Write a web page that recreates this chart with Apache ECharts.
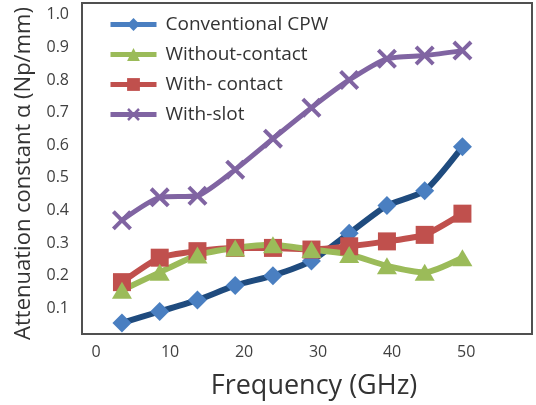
<!DOCTYPE html>
<html>
<head>
<meta charset="utf-8">
<script src="https://cdn.jsdelivr.net/npm/echarts@6/dist/echarts.min.js"></script>
<style>
  html, body { margin: 0; padding: 0; background: #ffffff; }
  #chart { width: 536px; height: 405px; }
</style>
</head>
<body>
<div id="chart"></div>
<script>
// frequency points (GHz)
const freq = [3.5, 8.6, 13.7, 18.8, 23.9, 29.1, 34.2, 39.3, 44.4, 49.5]

// attenuation constant (Np/mm)
const conventionalCpw = [0.055, 0.09, 0.125, 0.17, 0.2, 0.245, 0.33, 0.415, 0.46, 0.595]
const withoutContact = [0.155, 0.21, 0.263, 0.285, 0.295, 0.28, 0.265, 0.23, 0.21, 0.255]
const withContact = [0.18, 0.255, 0.275, 0.285, 0.285, 0.28, 0.29, 0.305, 0.325, 0.39]
const withSlot = [0.37, 0.44, 0.445, 0.525, 0.62, 0.715, 0.8, 0.865, 0.875, 0.89]

const xTicks = [0, 10, 20, 30, 40, 50]
const yTicks = [0.1, 0.2, 0.3, 0.4, 0.5, 0.6, 0.7, 0.8, 0.9, 1.0]

const toPairs = (vals) => vals.map((v, i) => [freq[i], v])

const FONT = '"Open Sans", sans-serif'
const xMark = 'path://M0,1.4L1.4,0L5,3.6L8.6,0L10,1.4L6.4,5L10,8.6L8.6,10L5,6.4L1.4,10L0,8.6L3.6,5Z'

const chart = echarts.init(document.getElementById('chart'))

const option = {
  animation: false,
  grid: {
    left: 82,
    right: 4,
    top: 3,
    bottom: 67,
    show: true,
    borderColor: '#505050',
    borderWidth: 2,
    backgroundColor: '#ffffff'
  },
  legend: {
    orient: 'vertical',
    left: 103,
    top: 10,
    itemWidth: 46,
    itemHeight: 16,
    itemGap: 11,
    textStyle: {
      fontFamily: FONT,
      fontSize: 19,
      color: '#333333',
      padding: [0, 0, 0, 4]
    },
    data: [
      { name: 'Conventional CPW', lineStyle: { color: '#4a7fc1', width: 5 } },
      { name: 'Without-contact', lineStyle: { width: 5 } },
      { name: 'With- contact', lineStyle: { width: 5 } },
      { name: 'With-slot', lineStyle: { width: 5 } }
    ]
  },
  xAxis: {
    type: 'value',
    min: -1.9,
    max: 58.9,
    name: 'Frequency (GHz)',
    nameLocation: 'middle',
    nameGap: 39,
    nameTextStyle: {
      fontFamily: FONT,
      fontSize: 27,
      color: '#333333',
      padding: [0, 0, 0, 14]
    },
    axisLine: { show: false },
    axisTick: { show: false },
    splitLine: { show: false },
    axisLabel: {
      customValues: xTicks,
      fontFamily: FONT,
      fontSize: 16,
      color: '#404040',
      margin: 10
    }
  },
  yAxis: {
    type: 'value',
    min: 0.021,
    max: 1.036,
    name: 'Attenuation constant α (Np/mm)',
    nameLocation: 'middle',
    nameRotate: 90,
    nameGap: 47,
    nameTextStyle: {
      fontFamily: FONT,
      fontSize: 22,
      color: '#333333',
      padding: [0, 10, 0, 0]
    },
    axisLine: { show: false },
    axisTick: { show: false },
    splitLine: { show: false },
    axisLabel: {
      customValues: yTicks,
      formatter: (v) => v.toFixed(1),
      fontFamily: FONT,
      fontSize: 16,
      color: '#404040',
      margin: 13
    }
  },
  series: [
    {
      name: 'Conventional CPW',
      type: 'line',
      data: toPairs(conventionalCpw),
      smooth: 0.2,
      symbol: 'diamond',
      symbolSize: 19,
      lineStyle: { color: '#1f4b7e', width: 6 },
      itemStyle: { color: '#4a7fc1' }
    },
    {
      name: 'With- contact',
      type: 'line',
      data: toPairs(withContact),
      smooth: 0.2,
      symbol: 'rect',
      symbolSize: 18,
      lineStyle: { color: '#c0504d', width: 6 },
      itemStyle: { color: '#c0504d' }
    },
    {
      name: 'Without-contact',
      type: 'line',
      data: toPairs(withoutContact),
      smooth: 0.2,
      symbol: 'triangle',
      symbolSize: [20, 17],
      lineStyle: { color: '#9bbb59', width: 6 },
      itemStyle: { color: '#9bbb59' }
    },
    {
      name: 'With-slot',
      type: 'line',
      data: toPairs(withSlot),
      smooth: 0.2,
      symbol: xMark,
      symbolSize: 20,
      lineStyle: { color: '#8064a2', width: 5 },
      itemStyle: { color: '#8064a2' }
    }
  ]
}

chart.setOption(option)
</script>
</body>
</html>
